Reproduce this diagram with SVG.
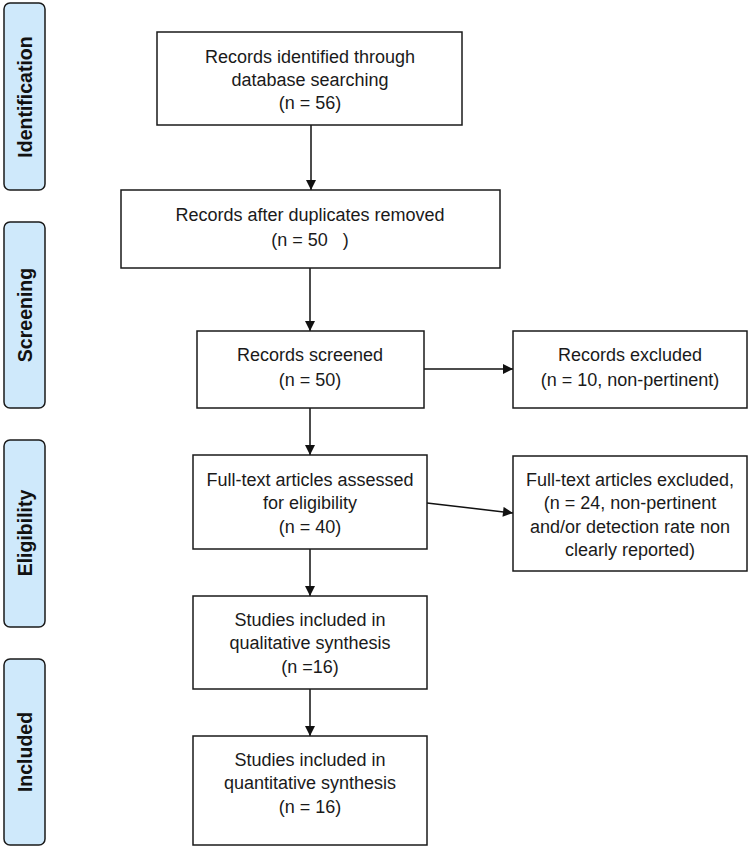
<svg xmlns="http://www.w3.org/2000/svg" width="750" height="850" viewBox="0 0 750 850">
<defs>
<style>
.box{fill:#fff;stroke:#1a1a1a;stroke-width:1.5}
.side{fill:#cfe9fb;stroke:#1a1a1a;stroke-width:1.5}
.t{font-family:"Liberation Sans",Arial,sans-serif;font-size:18px;fill:#1a1a1a;text-anchor:middle}
.s{font-family:"Liberation Sans",Arial,sans-serif;font-size:19.5px;font-weight:bold;fill:#111;text-anchor:middle}
.c{stroke:#111;stroke-width:1.5;fill:none;marker-end:url(#ah)}
</style>
<marker id="ah" viewBox="0 0 10 10" refX="10" refY="5" markerWidth="11" markerHeight="10" markerUnits="userSpaceOnUse" orient="auto">
<path d="M0,0 L10,5 L0,10 z" fill="#111"/>
</marker>
</defs>
<rect width="750" height="850" fill="#fff"/>
<g id="phase-identification"><rect class="side" x="4" y="3" width="41" height="187" rx="6"/><text class="s" transform="translate(32,97) rotate(-90)">Identification</text></g>
<g id="phase-screening"><rect class="side" x="4" y="222" width="41" height="186" rx="6"/><text class="s" transform="translate(32,315) rotate(-90)">Screening</text></g>
<g id="phase-eligibility"><rect class="side" x="4" y="440" width="41" height="187" rx="6"/><text class="s" transform="translate(32,533) rotate(-90)">Eligibility</text></g>
<g id="phase-included"><rect class="side" x="4" y="659" width="41" height="186" rx="6"/><text class="s" transform="translate(32,752) rotate(-90)">Included</text></g>

<g id="connectors">
<line class="c" x1="311" y1="125" x2="311" y2="190"/>
<line class="c" x1="310" y1="268" x2="310" y2="331"/>
<line class="c" x1="310" y1="408" x2="310" y2="455"/>
<line class="c" x1="310" y1="549" x2="310" y2="596"/>
<line class="c" x1="310" y1="689" x2="310" y2="736"/>
<line class="c" x1="424" y1="369" x2="513" y2="369"/>
<line class="c" x1="427" y1="503" x2="513" y2="513"/>
</g>

<g id="n1"><rect class="box" x="157" y="32" width="305" height="93"/>
<text class="t" x="310" y="63">Records identified through</text>
<text class="t" x="310" y="86">database searching</text>
<text class="t" x="310" y="109">(n = 56)</text></g>

<g id="n2"><rect class="box" x="121" y="190" width="379" height="78"/>
<text class="t" x="310" y="221">Records after duplicates removed</text>
<text class="t" x="310" y="246" xml:space="preserve">(n = 50   )</text></g>

<g id="n3"><rect class="box" x="197" y="331" width="227" height="77"/>
<text class="t" x="310" y="361">Records screened</text>
<text class="t" x="310" y="386">(n = 50)</text></g>

<g id="n4"><rect class="box" x="513" y="331" width="234" height="77"/>
<text class="t" x="630" y="361">Records excluded</text>
<text class="t" x="630" y="386">(n = 10, non-pertinent)</text></g>

<g id="n5"><rect class="box" x="193" y="455" width="234" height="94"/>
<text class="t" x="310" y="486">Full-text articles assessed</text>
<text class="t" x="310" y="509">for eligibility</text>
<text class="t" x="310" y="533">(n = 40)</text></g>

<g id="n6"><rect class="box" x="513" y="456" width="234" height="115"/>
<text class="t" x="630" y="486">Full-text articles excluded,</text>
<text class="t" x="630" y="509">(n = 24, non-pertinent</text>
<text class="t" x="630" y="533">and/or detection rate non</text>
<text class="t" x="630" y="556">clearly reported)</text></g>

<g id="n7"><rect class="box" x="193" y="596" width="234" height="93"/>
<text class="t" x="310" y="626">Studies included in</text>
<text class="t" x="310" y="649">qualitative synthesis</text>
<text class="t" x="310" y="673">(n =16)</text></g>

<g id="n8"><rect class="box" x="193" y="736" width="234" height="109"/>
<text class="t" x="310" y="766">Studies included in</text>
<text class="t" x="310" y="789">quantitative synthesis</text>
<text class="t" x="310" y="813">(n = 16)</text></g>
</svg>
